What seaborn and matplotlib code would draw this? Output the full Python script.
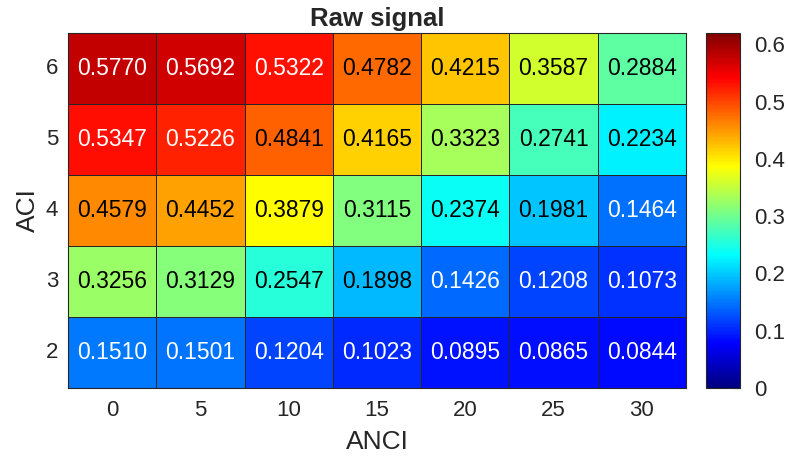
import numpy as np
import pandas as pd
import matplotlib
matplotlib.use("Agg")
import matplotlib.pyplot as plt
from matplotlib.colors import LinearSegmentedColormap
import seaborn as sns

anci = [0, 5, 10, 15, 20, 25, 30]
aci = [6, 5, 4, 3, 2]
row_6 = [0.5770, 0.5692, 0.5322, 0.4782, 0.4215, 0.3587, 0.2884]
row_5 = [0.5347, 0.5226, 0.4841, 0.4165, 0.3323, 0.2741, 0.2234]
row_4 = [0.4579, 0.4452, 0.3879, 0.3115, 0.2374, 0.1981, 0.1464]
row_3 = [0.3256, 0.3129, 0.2547, 0.1898, 0.1426, 0.1208, 0.1073]
row_2 = [0.1510, 0.1501, 0.1204, 0.1023, 0.0895, 0.0865, 0.0844]
cbar_ticks = [0, 0.1, 0.2, 0.3, 0.4, 0.5, 0.6]

df = pd.DataFrame([row_6, row_5, row_4, row_3, row_2], index=aci, columns=anci)

sns.set_style("white")
plt.rcParams["font.family"] = ["Liberation Sans", "DejaVu Sans"]

# jet-style colormap (classic piecewise-linear definition)
jet = LinearSegmentedColormap("jet_classic", {
    "red":   [(0, 0, 0), (3/8, 0, 0), (5/8, 1, 1), (7/8, 1, 1), (1, 0.5, 0.5)],
    "green": [(0, 0, 0), (1/8, 0, 0), (3/8, 1, 1), (5/8, 1, 1), (7/8, 0, 0), (1, 0, 0)],
    "blue":  [(0, 0.5, 0.5), (1/8, 1, 1), (3/8, 1, 1), (5/8, 0, 0), (1, 0, 0)],
}, N=256)

txt = "#262626"
fig = plt.figure(figsize=(7.88, 4.62), dpi=100)
ax = fig.add_axes([68 / 788, 1 - 388 / 462, (686 - 68) / 788, (388 - 33) / 462])
cax = fig.add_axes([706 / 788, 1 - 388 / 462, (740 - 706) / 788, (388 - 33) / 462])

sns.heatmap(df, ax=ax, cbar_ax=cax, cmap=jet, vmin=0, vmax=0.62,
            linewidths=0.6, linecolor="#262626", annot=False)

for i, vals in enumerate(df.values):
    for j, v in enumerate(vals):
        color = "white" if (v < 0.16 or v > 0.5) else "black"
        ax.text(j + 0.5, i + 0.5, f"{v:.4f}", ha="center", va="center",
                fontsize=16.5, color=color)

for s in ax.spines.values():
    s.set_visible(True)
    s.set_color("#262626")
    s.set_linewidth(0.8)

ax.tick_params(axis="x", length=0, labelsize=16, colors=txt, pad=9)
ax.tick_params(axis="y", length=0, labelsize=16, colors=txt, pad=7)
ax.set_yticklabels(aci, rotation=0)
ax.set_xticklabels(anci, rotation=0)
ax.set_xlabel("ANCI", fontsize=19, color=txt, labelpad=6)
ax.set_ylabel("ACI", fontsize=19, color=txt, labelpad=4)
ax.set_title("Raw signal", fontsize=18.5, fontweight="bold", color=txt, pad=5)

cb = ax.collections[0].colorbar
cb.set_ticks(cbar_ticks)
cb.set_ticklabels([f"{t:g}" for t in cbar_ticks])
cax.tick_params(direction="in", length=4, labelsize=16, colors=txt, pad=10,
                width=0.8)
cb.outline.set_edgecolor("#262626")
cb.outline.set_linewidth(0.8)

fig.savefig("out.png", dpi=100)
